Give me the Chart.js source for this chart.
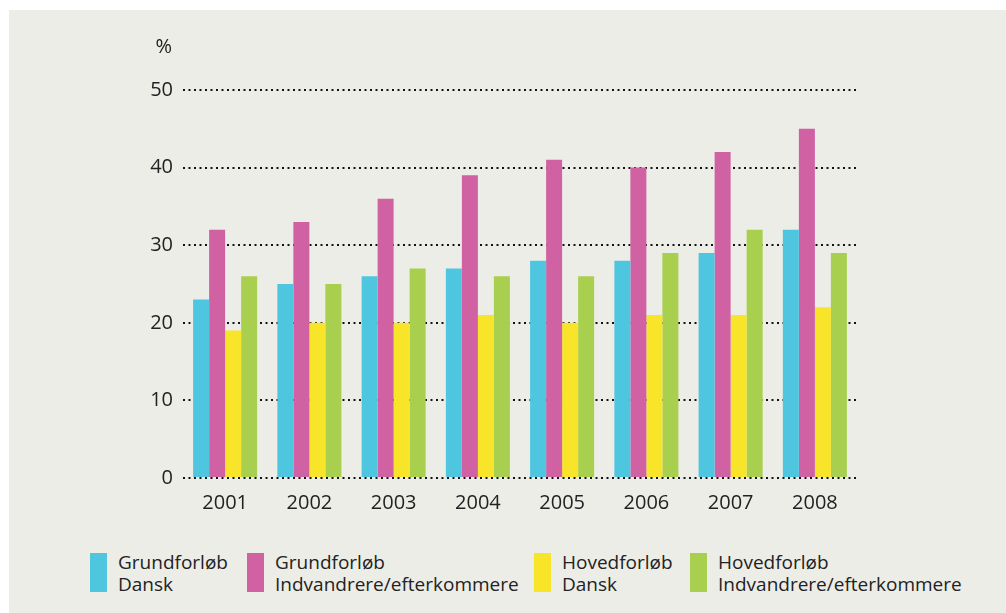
<!DOCTYPE html>
<html>
<head>
<meta charset="utf-8">
<script src="https://cdn.jsdelivr.net/npm/chart.js@4.4.1/dist/chart.umd.min.js"></script>
<style>
  body { margin: 0; background: #fff; }
  #panel { position: absolute; left: 9px; top: 10px; width: 997px; height: 603px; background: #ededE8; }
  #wrap { position: absolute; left: 0; top: 0; width: 1006px; height: 518px; }
  .leg { position: absolute; top: 553px; font-family: "Open Sans", sans-serif; font-size: 19px; line-height: 22px; color: #222; }
  .leg .box { position: absolute; left: 0; top: 0; width: 17px; height: 39px; }
  .leg .txt { position: absolute; top: -2px; left: 28px; white-space: nowrap; }
</style>
</head>
<body>
<div id="panel"></div>
<div id="wrap"><canvas id="chart"></canvas></div>
<div id="legend"></div>
<script>
const years = ["2001", "2002", "2003", "2004", "2005", "2006", "2007", "2008"];
const seriesNames = [
  ["Grundforløb", "Dansk"],
  ["Grundforløb", "Indvandrere/efterkommere"],
  ["Hovedforløb", "Dansk"],
  ["Hovedforløb", "Indvandrere/efterkommere"]
];
const grundDansk = [23, 25, 26, 27, 28, 28, 29, 32];
const grundIndv = [32, 33, 36, 39, 41, 40, 42, 45];
const hovedDansk = [19, 20, 20, 21, 20, 21, 21, 22];
const hovedIndv = [26, 25, 27, 26, 26, 29, 32, 29];
const colors = ["#4fc6df", "#d062a4", "#f8e52a", "#a8cf4e"];
const legendX = [90, 247, 534, 690];

const values = [grundDansk, grundIndv, hovedDansk, hovedIndv];
const font = { family: "'Open Sans', sans-serif", size: 20 };

// "%" over the y axis
const percentLabel = {
  id: "percentLabel",
  afterDraw(chart) {
    const ctx = chart.ctx;
    const y = chart.scales.y;
    ctx.save();
    ctx.font = "20px 'Open Sans', sans-serif";
    ctx.fillStyle = "#222";
    ctx.textAlign = "right";
    ctx.textBaseline = "middle";
    ctx.fillText("%", chart.chartArea.left - 11, y.getPixelForValue(50) - 43);
    ctx.restore();
  }
};

new Chart(document.getElementById("chart"), {
  type: "bar",
  data: {
    labels: years,
    datasets: values.map((v, i) => ({
      label: seriesNames[i].join(" "),
      data: v,
      backgroundColor: colors[i],
      barPercentage: 1,
      categoryPercentage: 0.76
    }))
  },
  options: {
    responsive: true,
    maintainAspectRatio: false,
    animation: false,
    layout: { padding: { top: 90, right: 149, left: 0, bottom: 0 } },
    plugins: { legend: { display: false }, tooltip: { enabled: false } },
    scales: {
      x: {
        grid: { display: false },
        border: { display: false },
        ticks: { color: "#222", font: font, padding: 5 },
        afterFit(scale) { scale.height = 40; }
      },
      y: {
        min: 0,
        max: 50,
        ticks: { stepSize: 10, color: "#222", font: font, padding: 10 },
        grid: { color: "#111", lineWidth: 2, drawTicks: false },
        border: { display: false, dash: [2, 3.5] },
        afterFit(scale) { scale.width = 183; }
      }
    }
  },
  plugins: [percentLabel]
});

// legend in html, two lines per entry
const legend = document.getElementById("legend");
seriesNames.forEach((name, i) => {
  const item = document.createElement("div");
  item.className = "leg";
  item.style.left = legendX[i] + "px";
  item.innerHTML = '<div class="box" style="background:' + colors[i] + '"></div>' +
    '<div class="txt">' + name[0] + "<br>" + name[1] + "</div>";
  legend.appendChild(item);
});
</script>
</body>
</html>
